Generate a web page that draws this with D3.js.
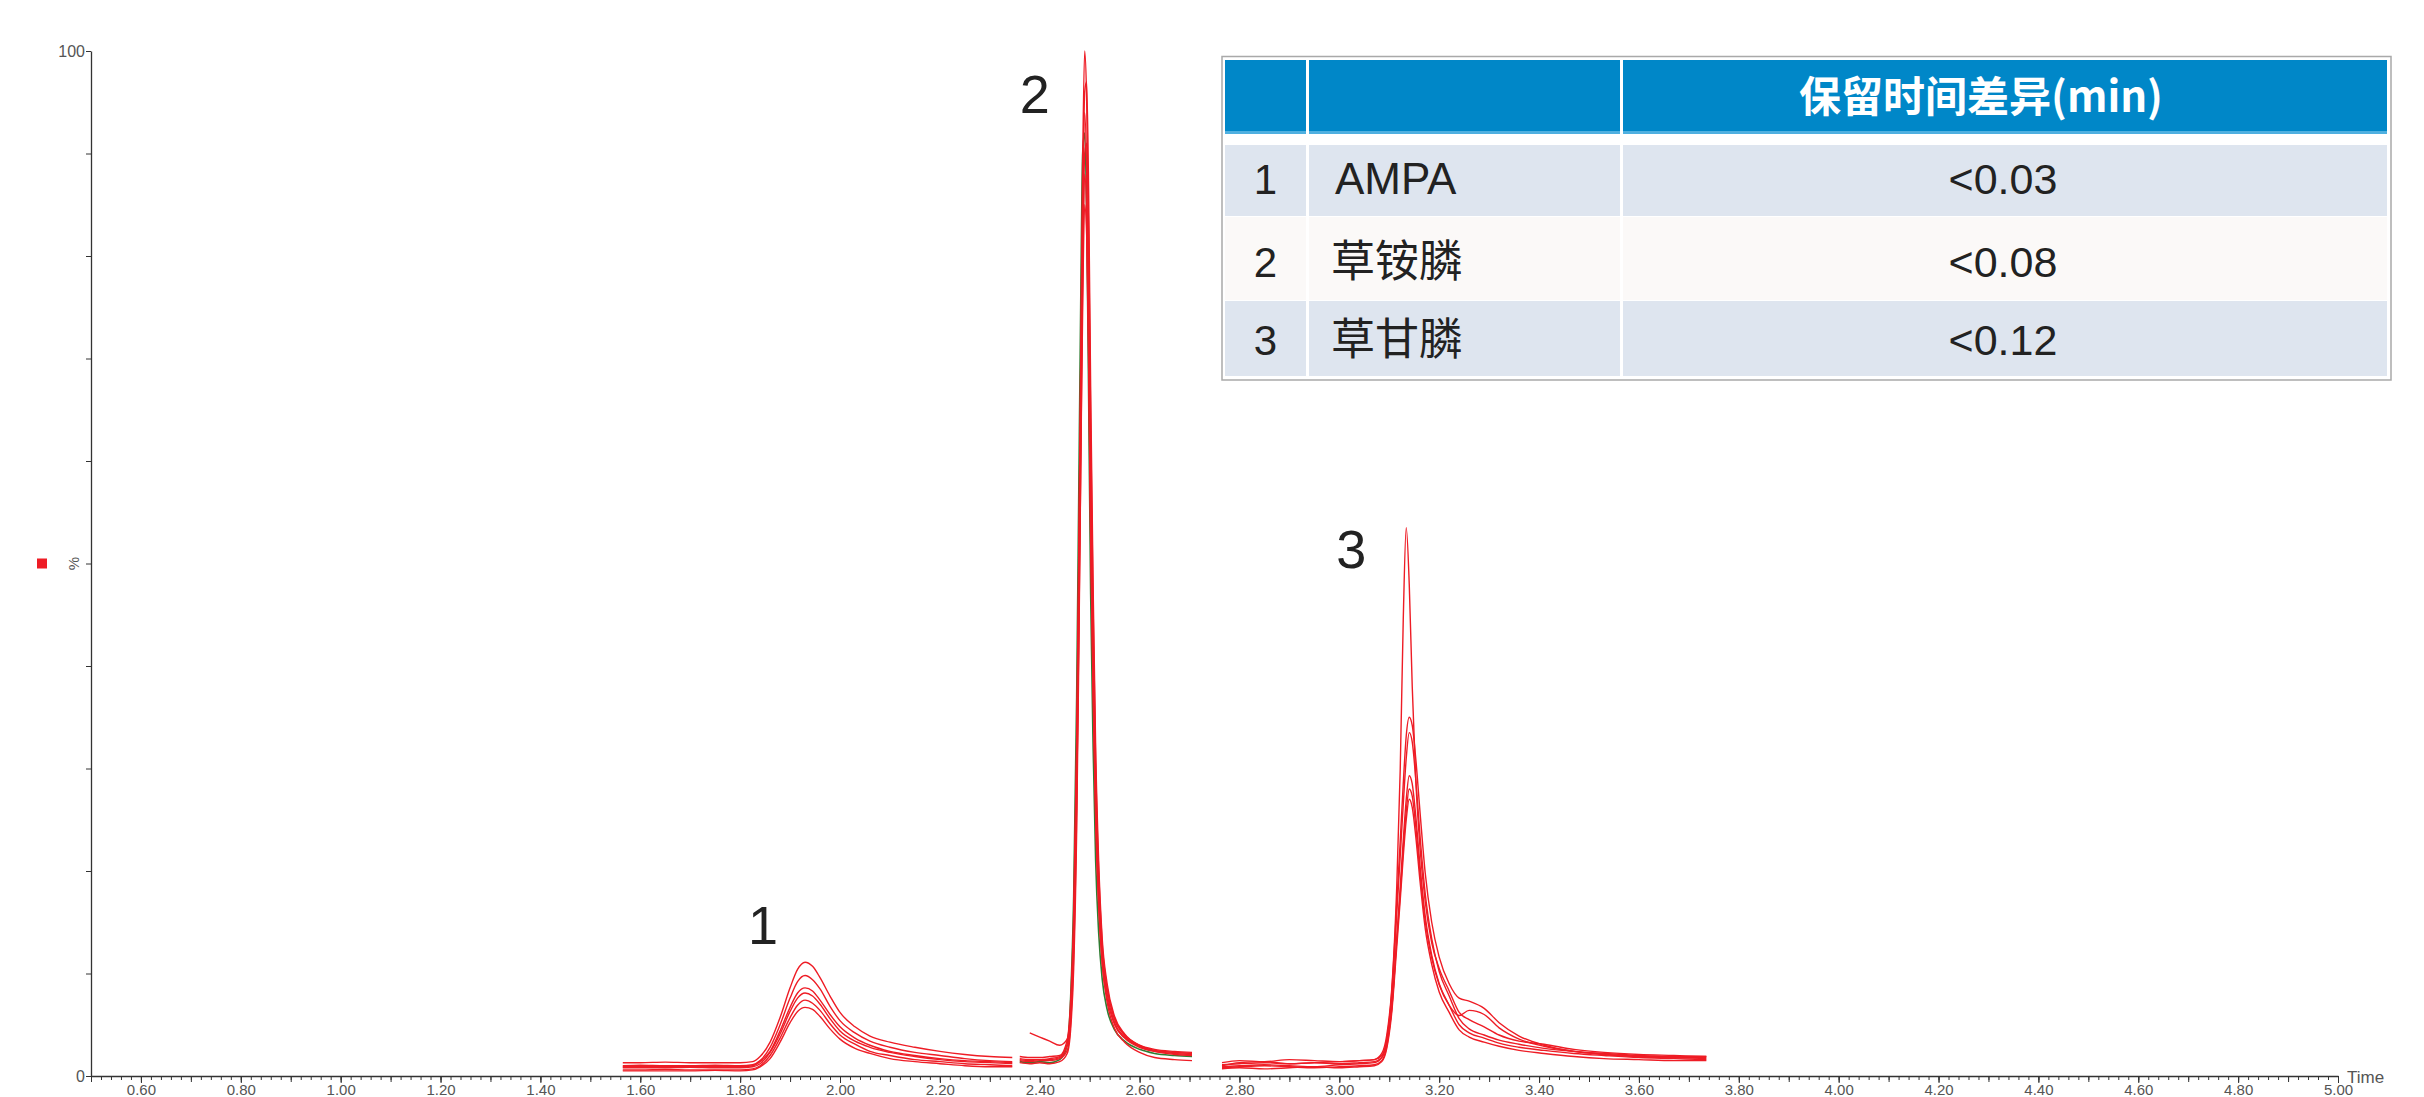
<!DOCTYPE html>
<html>
<head>
<meta charset="utf-8">
<script src="https://cdn.jsdelivr.net/npm/d3@7"></script>
<style>
  html, body { margin: 0; padding: 0; background: #fff; }
  svg { display: block; }
</style>
</head>
<body>
<div id="chrom"></div>
<script>
// retention times (min) for the three MRM windows
const times1 = [1.565, 1.60, 1.65, 1.70, 1.75, 1.80, 1.825, 1.84, 1.86, 1.88, 1.90, 1.915, 1.93, 1.945, 1.96, 1.98, 2.00, 2.03, 2.06, 2.10, 2.15, 2.20, 2.25, 2.30, 2.345];
const times2 = [2.36, 2.38, 2.40, 2.42, 2.44, 2.455, 2.462, 2.468, 2.474, 2.478, 2.482, 2.486, 2.490, 2.494, 2.498, 2.502, 2.507, 2.512, 2.518, 2.525, 2.535, 2.55, 2.57, 2.60, 2.63, 2.67, 2.705];
const times3 = [2.765, 2.80, 2.85, 2.90, 2.95, 3.00, 3.04, 3.07, 3.085, 3.095, 3.105, 3.115, 3.122, 3.128, 3.134, 3.140, 3.146, 3.153, 3.162, 3.172, 3.185, 3.20, 3.22, 3.24, 3.26, 3.29, 3.32, 3.36, 3.41, 3.47, 3.53, 3.60, 3.67, 3.735];

// peak 1 - AMPA, six injections (% intensity)
const ampa1 = [1.3,1.3,1.35,1.3,1.3,1.3,1.4,1.9,3.3,5.7,8.6,10.4,11.1,10.7,9.6,7.8,6.2,4.8,3.9,3.3,2.8,2.4,2.1,1.9,1.8];
const ampa2 = [1.0,1.05,1.0,1.0,1.05,1.0,1.1,1.5,2.8,5.0,7.6,9.2,9.8,9.4,8.5,6.8,5.4,4.2,3.4,2.8,2.3,2.0,1.7,1.5,1.4];
const ampa3 = [0.9,0.9,0.95,0.9,0.9,0.9,1.0,1.4,2.4,4.4,6.7,8.1,8.6,8.3,7.4,6.0,4.8,3.7,3.0,2.4,2.0,1.7,1.5,1.4,1.3];
const ampa4 = [0.8,0.8,0.8,0.85,0.8,0.8,0.9,1.2,2.3,4.1,6.3,7.6,8.1,7.8,7.0,5.6,4.4,3.4,2.8,2.3,1.9,1.6,1.4,1.3,1.2];
const ampa5 = [0.6,0.6,0.65,0.6,0.6,0.6,0.7,1.0,2.0,3.7,5.7,6.9,7.4,7.1,6.4,5.1,4.0,3.1,2.4,2.0,1.6,1.4,1.2,1.1,1.0];
const ampa6 = [0.5,0.5,0.5,0.5,0.55,0.5,0.6,0.9,1.7,3.3,5.2,6.3,6.7,6.5,5.8,4.6,3.6,2.7,2.2,1.7,1.4,1.2,1.0,0.9,0.9];

// peak 2 - 草铵膦
const glufo1 = [1.7,1.6,1.6,1.7,1.9,3.1,6.6,14.6,31.5,49.5,69.4,89.2,100,95.1,80.3,60.6,42.9,29.0,19.2,12.4,8.5,5.5,4.0,3.0,2.6,2.4,2.3];
const glufo2 = [1.5,1.4,1.5,1.5,1.7,2.5,5.2,11.8,26.0,43.5,63.0,83.5,96.0,97.0,86.0,67.0,47.5,32.0,21.0,13.5,9.0,5.8,4.1,3.0,2.5,2.3,2.2];
const glufo3 = [1.9,1.8,1.8,1.9,2.0,3.5,7.5,16.0,33.0,50.5,69.0,86.5,94.0,88.0,72.0,54.0,38.5,26.5,18.0,11.8,8.0,5.2,3.8,2.9,2.5,2.3,2.2];
const glufo4 = [1.3,1.2,1.3,1.2,1.4,2.2,4.6,10.5,24.0,40.0,58.5,78.0,90.0,91.0,82.0,64.0,45.5,30.5,20.0,13.0,8.6,5.6,4.0,2.9,2.4,2.1,2.0];
const glufo5 = [1.6,1.5,1.6,1.6,1.8,3.0,6.5,14.0,29.5,45.5,62.5,79.0,88.0,84.0,70.5,53.0,37.5,25.5,17.0,11.2,7.6,5.0,3.7,2.8,2.4,2.2,2.1];
const glufo6 = [null,4.2,3.8,3.4,3.0,3.6,6.2,13.0,27.0,42.0,58.5,75.0,85.0,82.0,69.0,52.0,37.0,25.0,16.5,11.0,7.2,4.6,3.3,2.3,1.8,1.6,1.5];
const glufoGreen = [1.4,1.3,1.4,1.3,1.6,3.0,7.8,17.5,37.0,56.0,75.0,90.0,92.0,84.0,66.0,47.0,32.0,21.0,14.0,9.5,6.5,4.5,3.4,2.6,2.2,2.0,1.9];

// peak 3 - 草甘膦
const glyph1 = [1.0,1.3,1.4,1.2,1.3,1.4,1.5,1.6,2.2,4.0,8.5,18.5,30.0,44.5,53.5,48.0,38.0,29.0,22.0,17.0,13.0,10.5,8.3,6.2,5.5,4.8,4.0,3.4,3.1,2.6,2.3,2.1,2.0,1.9];
const glyph2 = [0.9,1.0,1.1,1.0,0.9,1.1,1.2,1.3,1.8,3.6,8.2,16.8,23.0,28.5,33.2,35.0,34.2,31.0,25.5,19.8,15.0,11.6,9.0,7.6,7.3,6.6,5.2,3.9,3.0,2.4,2.1,1.9,1.8,1.8];
const glyph3 = [1.3,1.5,1.4,1.6,1.5,1.4,1.5,1.6,2.0,3.5,7.8,15.8,21.5,26.5,31.0,33.5,32.6,29.0,23.2,17.8,13.4,10.2,7.8,5.6,4.6,4.0,3.5,3.1,2.7,2.4,2.2,2.0,1.9,1.9];
const glyph4 = [0.8,0.9,1.0,0.9,0.8,0.9,1.0,1.1,1.5,2.9,6.6,13.5,18.5,23.0,27.0,29.3,28.5,25.4,20.3,15.6,11.8,9.0,6.9,5.0,4.2,3.7,3.2,2.8,2.5,2.2,2.0,1.8,1.7,1.6];
const glyph5 = [1.1,1.2,1.3,1.2,1.3,1.2,1.3,1.4,1.8,3.2,6.6,13.2,17.8,22.2,25.8,28.0,27.3,24.4,19.6,15.1,11.5,8.9,6.9,5.9,6.4,6.0,4.7,3.6,2.9,2.4,2.1,1.9,1.8,1.7];
const glyph6 = [0.7,0.8,0.7,0.8,0.9,0.8,0.9,1.0,1.4,2.7,6.2,12.6,17.2,21.4,25.0,27.0,26.2,23.4,18.8,14.4,10.9,8.2,6.2,4.5,3.8,3.3,2.9,2.5,2.2,1.9,1.7,1.6,1.5,1.5];

// peak labels
const peakNames = ["1", "2", "3"];
const peakApexTimes = [1.93, 2.49, 3.14];
const peakApexValues = [11.1, 100, 53.5];

// axis ticks
const xLabelTicks = [0.6, 0.8, 1.0, 1.2, 1.4, 1.6, 1.8, 2.0, 2.2, 2.4, 2.6, 2.8, 3.0, 3.2, 3.4, 3.6, 3.8, 4.0, 4.2, 4.4, 4.6, 4.8, 5.0];
const yTicks = [0, 10, 20, 30, 40, 50, 60, 70, 80, 90, 100];

// table
const tableHeader = "保留时间差异(min)";
const tableNums = ["1", "2", "3"];
const tableNames = ["AMPA", "草铵膦", "草甘膦"];
const tableDiffs = ["<0.03", "<0.08", "<0.12"];

const W = 2424, H = 1097;
const svg = d3.select("#chrom").append("svg")
  .attr("width", W)
  .attr("height", H)
  .style("background", "#fff");

const x = d3.scaleLinear().domain([0.5, 5.0]).range([91, 2338]);
const y = d3.scaleLinear().domain([0, 100]).range([1076, 51]);

const axisFont = "'Liberation Sans', Arial, sans-serif";

// x axis: minor every 0.02, mid every 0.1, labels every 0.2
const minorTicks = d3.range(0, 226).map(i => 0.5 + i * 0.02);
const midTicks = d3.range(0, 46).map(i => 0.5 + i * 0.1);

svg.append("g")
  .attr("transform", `translate(0, ${y(0)})`)
  .call(d3.axisBottom(x).tickValues(minorTicks).tickSize(4).tickFormat("").tickSizeOuter(0))
  .call(g => g.selectAll("line").attr("stroke", "#333"))
  .call(g => g.select(".domain").attr("stroke", "#333").attr("stroke-width", 1.3));

svg.append("g")
  .attr("transform", `translate(0, ${y(0)})`)
  .call(d3.axisBottom(x).tickValues(midTicks).tickSize(6).tickFormat("").tickSizeOuter(0))
  .call(g => g.select(".domain").remove())
  .call(g => g.selectAll("line").attr("stroke", "#333"));

svg.append("g")
  .attr("transform", `translate(0, ${y(0)})`)
  .call(d3.axisBottom(x).tickValues(xLabelTicks).tickSize(7).tickFormat(d3.format(".2f")).tickSizeOuter(0))
  .call(g => g.select(".domain").remove())
  .call(g => g.selectAll("line").attr("stroke", "#333"))
  .call(g => g.selectAll("text")
    .attr("y", 8)
    .attr("fill", "#555")
    .style("font-family", axisFont)
    .style("font-size", "15px"));

svg.append("text")
  .attr("x", 2347)
  .attr("y", 1083)
  .attr("fill", "#555")
  .style("font-family", axisFont)
  .style("font-size", "17px")
  .text("Time");

// y axis
svg.append("g")
  .attr("transform", `translate(${x(0.5)}, 0)`)
  .call(d3.axisLeft(y).tickValues(yTicks).tickSize(5).tickSizeOuter(0)
    .tickFormat(d => (d === 0 || d === 100) ? d : ""))
  .call(g => g.select(".domain").attr("stroke", "#333").attr("stroke-width", 1.3))
  .call(g => g.selectAll("line").attr("stroke", "#333"))
  .call(g => g.selectAll("text")
    .attr("x", -6)
    .attr("fill", "#555")
    .style("font-family", axisFont)
    .style("font-size", "16px"));

svg.append("text")
  .attr("transform", `translate(79, ${y(50)}) rotate(-90)`)
  .attr("text-anchor", "middle")
  .attr("fill", "#555")
  .style("font-family", axisFont)
  .style("font-size", "15px")
  .text("%");

svg.append("rect")
  .attr("x", 37).attr("y", y(50) - 5)
  .attr("width", 10).attr("height", 10)
  .attr("fill", "#ee1c25");

// traces
const line = d3.line()
  .defined(d => d[1] !== null)
  .x(d => x(d[0]))
  .y(d => y(d[1]))
  .curve(d3.curveMonotoneX);

const zipT = (t, v) => t.map((tt, i) => [tt, v[i]]);

svg.append("path")
  .datum(zipT(times2, glufoGreen))
  .attr("d", line)
  .attr("fill", "none")
  .attr("stroke", "#2f7d32")
  .attr("stroke-width", 1.6);

const redTraces = [
  [times1, ampa1], [times1, ampa2], [times1, ampa3], [times1, ampa4], [times1, ampa5], [times1, ampa6],
  [times2, glufo1], [times2, glufo2], [times2, glufo3], [times2, glufo4], [times2, glufo5], [times2, glufo6],
  [times3, glyph1], [times3, glyph2], [times3, glyph3], [times3, glyph4], [times3, glyph5], [times3, glyph6]
];

svg.selectAll(".trace")
  .data(redTraces)
  .join("path")
  .attr("class", "trace")
  .attr("d", d => line(zipT(d[0], d[1])))
  .attr("fill", "none")
  .attr("stroke", "#ee1c25")
  .attr("stroke-width", 1.4);

// peak numbers, placed up-left of each apex
svg.selectAll(".peaklbl")
  .data(peakNames)
  .join("text")
  .attr("class", "peaklbl")
  .attr("x", (d, i) => x(peakApexTimes[i]) + [-42, -50, -58][i])
  .attr("y", (d, i) => y(peakApexValues[i]) + [-18, 62, 40][i])
  .attr("text-anchor", "middle")
  .attr("fill", "#222")
  .style("font-family", axisFont)
  .style("font-size", "54px")
  .text(d => d);

// results table
const tbl = svg.append("g");
const cols = [[1225, 1306], [1309, 1620], [1623, 2387]];
const rows = [[145, 216], [217, 300], [301, 376]];
const rowFill = ["#dee5ef", "#fbf9f8", "#dee5ef"];

tbl.append("rect")
  .attr("x", 1222).attr("y", 56.5)
  .attr("width", 1169).attr("height", 323.5)
  .attr("fill", "#fff")
  .attr("stroke", "#a9a9a9")
  .attr("stroke-width", 1.5);

cols.forEach(c => {
  tbl.append("rect")
    .attr("x", c[0]).attr("y", 60)
    .attr("width", c[1] - c[0]).attr("height", 74)
    .attr("fill", "#0087c8");
  tbl.append("rect")
    .attr("x", c[0]).attr("y", 131)
    .attr("width", c[1] - c[0]).attr("height", 3)
    .attr("fill", "#4fb0e0");
});

rows.forEach((r, i) => {
  cols.forEach(c => {
    tbl.append("rect")
      .attr("x", c[0]).attr("y", r[0])
      .attr("width", c[1] - c[0]).attr("height", r[1] - r[0])
      .attr("fill", rowFill[i]);
  });
});

tbl.append("text")
  .attr("x", 1981).attr("y", 112)
  .attr("text-anchor", "middle")
  .attr("fill", "#fff")
  .style("font-family", "'Noto Sans CJK SC', 'Noto Sans', sans-serif")
  .style("font-size", "42px")
  .style("font-weight", "bold")
  .text(tableHeader);

const baselines = [194, 277, 355];
const cellFont = "'Liberation Sans', Arial, 'Noto Sans CJK SC', sans-serif";

tbl.selectAll(".num")
  .data(tableNums)
  .join("text")
  .attr("class", "num")
  .attr("x", (cols[0][0] + cols[0][1]) / 2)
  .attr("y", (d, i) => baselines[i])
  .attr("text-anchor", "middle")
  .attr("fill", "#222")
  .style("font-family", cellFont)
  .style("font-size", "42px")
  .text(d => d);

tbl.selectAll(".name")
  .data(tableNames)
  .join("text")
  .attr("class", "name")
  .attr("x", (d, i) => i === 0 ? 1335 : 1331)
  .attr("y", (d, i) => baselines[i])
  .attr("fill", "#222")
  .style("font-family", (d, i) => i === 0 ? cellFont : "'Noto Sans CJK SC', sans-serif")
  .style("font-size", "44px")
  .text(d => d);

tbl.selectAll(".diff")
  .data(tableDiffs)
  .join("text")
  .attr("class", "diff")
  .attr("x", 2003)
  .attr("y", (d, i) => baselines[i])
  .attr("text-anchor", "middle")
  .attr("fill", "#222")
  .style("font-family", cellFont)
  .style("font-size", "43px")
  .text(d => d);
</script>
</body>
</html>
